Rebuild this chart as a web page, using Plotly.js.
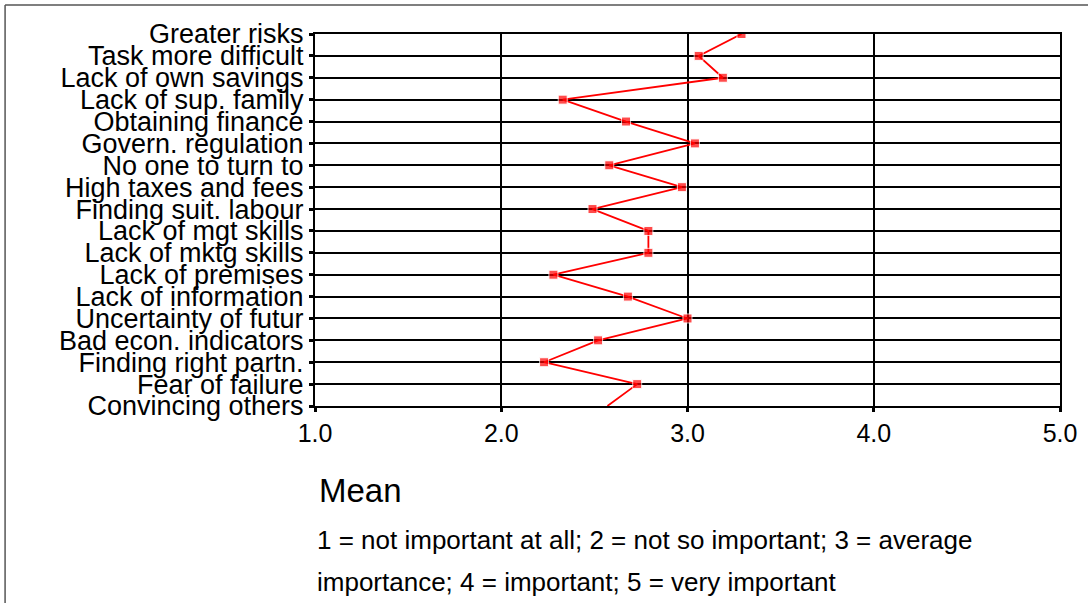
<!DOCTYPE html>
<html>
<head>
<meta charset="utf-8">
<script src="https://cdn.plot.ly/plotly-3.0.1.min.js"></script>
<style>html,body{margin:0;padding:0;background:#fff;}#chart{width:1088px;height:603px;}</style>
</head>
<body>
<div id="chart"></div>
<script>
const categories = [
  "Greater risks", "Task more difficult", "Lack of own savings", "Lack of sup. family",
  "Obtaining finance", "Govern. regulation", "No one to turn to", "High taxes and fees",
  "Finding suit. labour", "Lack of mgt skills", "Lack of mktg skills", "Lack of premises",
  "Lack of information", "Uncertainty of futur", "Bad econ. indicators", "Finding right partn.",
  "Fear of failure", "Convincing others"
];
const meanValues = [3.29, 3.06, 3.19, 2.33, 2.67, 3.04, 2.58, 2.97, 2.49, 2.79, 2.79, 2.28, 2.68, 3.00, 2.52, 2.23, 2.73, 2.57];
const markerSizes = [9, 9, 9, 9, 9, 9, 9, 9, 9, 9, 9, 9, 9, 9, 9, 9, 9, 0];
const xTickVals = [1, 2, 3, 4, 5];
const xTickText = ["1.0", "2.0", "3.0", "4.0", "5.0"];
const axisTitle = "Mean";
const noteLine1 = "1 = not important at all; 2 = not so important; 3 = average";
const noteLine2 = "importance; 4 = important; 5 = very important";

const FONT = "Liberation Sans, Arial, sans-serif";

const trace = {
  type: "scatter",
  mode: "lines+markers",
  x: meanValues,
  y: categories,
  line: {color: "#ff0000", width: 1.8},
  marker: {symbol: "square", size: markerSizes, color: "#ff0000"},
  hoverinfo: "x+y"
};

const layout = {
  width: 1088, height: 603, autosize: false,
  margin: {l: 315, r: 28, t: 34, b: 197, pad: 0},
  paper_bgcolor: "#ffffff", plot_bgcolor: "#ffffff",
  showlegend: false,
  font: {family: FONT, color: "#000000"},
  xaxis: {
    range: [1, 5], tickmode: "array", tickvals: xTickVals, ticktext: xTickText,
    showgrid: true, gridcolor: "#000000", gridwidth: 2,
    showline: true, linecolor: "#000000", linewidth: 2, mirror: true,
    ticks: "outside", ticklen: 4, tickwidth: 3, tickcolor: "#000000",
    tickfont: {family: FONT, size: 25, color: "#000000"},
    zeroline: false, fixedrange: true
  },
  yaxis: {
    type: "category", categoryorder: "array", categoryarray: categories,
    tickmode: "array", tickvals: categories, ticktext: categories,
    range: [categories.length - 1, 0],
    showgrid: true, gridcolor: "#000000", gridwidth: 2,
    showline: true, linecolor: "#000000", linewidth: 2, mirror: true,
    ticks: "outside", ticklen: 4, tickwidth: 3, tickcolor: "#000000",
    tickfont: {family: FONT, size: 27, color: "#000000"},
    zeroline: false, fixedrange: true
  },
  annotations: [
    {text: axisTitle, xref: "paper", yref: "paper", x: 0.003, y: -0.226, xanchor: "left", yanchor: "middle",
     showarrow: false, font: {family: FONT, size: 33, color: "#000000"}},
    {text: noteLine1, xref: "paper", yref: "paper", x: 0.0, y: -0.36, xanchor: "left", yanchor: "middle",
     showarrow: false, font: {family: FONT, size: 26, color: "#000000"}},
    {text: noteLine2, xref: "paper", yref: "paper", x: 0.0, y: -0.473, xanchor: "left", yanchor: "middle",
     showarrow: false, font: {family: FONT, size: 26, color: "#000000"}}
  ],
  shapes: [
    {type: "line", xref: "paper", yref: "paper", x0: -0.416, x1: 1.05, y0: 1.078, y1: 1.078,
     line: {color: "#555555", width: 1.5}},
    {type: "line", xref: "paper", yref: "paper", x0: -0.416, x1: -0.416, y0: 1.078, y1: -0.6,
     line: {color: "#555555", width: 1.5}}
  ]
};

Plotly.newPlot("chart", [trace], layout, {displayModeBar: false, staticPlot: true});
</script>
</body>
</html>
